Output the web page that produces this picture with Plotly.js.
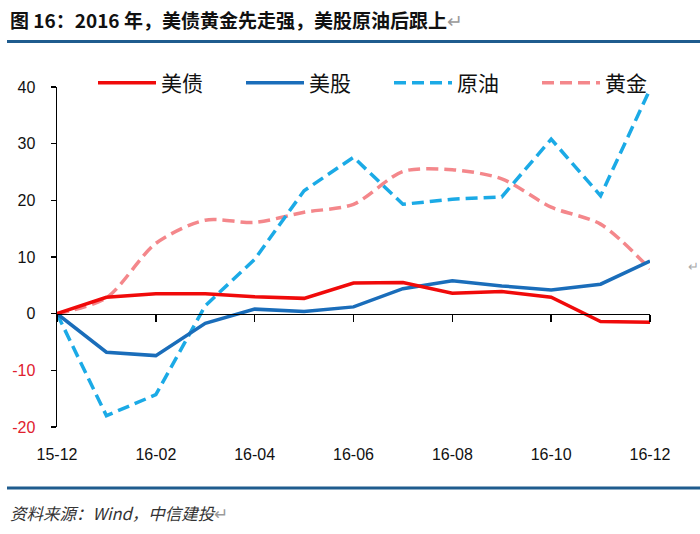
<!DOCTYPE html>
<html>
<head>
<meta charset="utf-8">
<script src="https://cdn.plot.ly/plotly-3.0.1.min.js"></script>
<style>html,body{margin:0;padding:0;background:#fff;}#chart{width:700px;height:534px;}</style>
</head>
<body>
<div id="chart"></div>
<script>
const months = ["15-12","16-01","16-02","16-03","16-04","16-05","16-06","16-07","16-08","16-09","16-10","16-11","16-12"];
const usBond  = [0, 2.9, 3.5, 3.5, 3.0, 2.7, 5.4, 5.5, 3.6, 3.9, 2.9, -1.4, -1.5];
const usStock = [0, -6.8, -7.4, -1.7, 0.8, 0.4, 1.2, 4.4, 5.8, 4.9, 4.2, 5.2, 9.3];
const crude   = [0, -18.0, -14.3, 1.4, 9.6, 21.7, 27.6, 19.3, 20.2, 20.6, 30.8, 20.8, 39.6];
const gold    = [0, 2.8, 12.4, 16.5, 16.1, 17.9, 19.3, 25.1, 25.4, 23.8, 18.8, 15.8, 7.9];
const seriesNames = ["美债","美股","原油","黄金"];
const yTickVals = [-20,-10,0,10,20,30,40];
const yTickText = ['<span style="color:#E0202E">-20</span>','<span style="color:#E0202E">-10</span>','0','10','20','30','40'];
const xTickVals = ["15-12","16-02","16-04","16-06","16-08","16-10","16-12"];

// plot-area geometry in px (for converting annotation positions)
const L = 57, R = 650, T = 87, B = 427;
const px = v => (v - L) / (R - L);
const py = v => (B - v) / (B - T);

const cjk = '"Noto Sans CJK SC", "Noto Sans", sans-serif';
const traces = [
  {x: months, y: gold, name: seriesNames[3], type:'scatter', mode:'lines', legendrank: 4,
   line:{color:'#F4878B', width:3.5, dash:'12px,6px', shape:'spline', smoothing:0.8}},
  {x: months, y: crude, name: seriesNames[2], type:'scatter', mode:'lines', legendrank: 3,
   line:{color:'#1BAAE6', width:3.5, dash:'12px,6px'}},
  {x: months, y: usStock, name: seriesNames[1], type:'scatter', mode:'lines', legendrank: 2,
   line:{color:'#1A6DBA', width:3.5}},
  {x: months, y: usBond, name: seriesNames[0], type:'scatter', mode:'lines', legendrank: 1,
   line:{color:'#F00A0A', width:3.5}},
  {x: months, y: usBond, xaxis:'x2', type:'scatter', mode:'lines', showlegend:false,
   hoverinfo:'skip', opacity:0, line:{width:0}}
];

const layout = {
  width:700, height:534,
  paper_bgcolor:'#fff', plot_bgcolor:'#fff',
  margin:{l:L, r:700-R, t:T, b:534-B, pad:0},
  font:{family:'"Liberation Sans", Arial, sans-serif', size:16, color:'#111'},
  showlegend:true,
  legend:{orientation:'h', x:px(685), xanchor:'right', y:py(83), yanchor:'middle',
    font:{family:cjk, size:21, color:'#111'}, itemwidth:58, entrywidth:75, traceorder:'normal',
    bgcolor:'rgba(0,0,0,0)'},
  xaxis:{type:'category', range:[0,12], tickmode:'array', tickvals:xTickVals,
    showline:false, showgrid:false, zeroline:false, ticks:'', ticklabelstandoff:16,
    tickfont:{size:16, color:'#111'}, fixedrange:true},
  xaxis2:{type:'category', overlaying:'x', anchor:'free', position:1/3, range:[0,12],
    tickmode:'array', tickvals:xTickVals, showticklabels:false, showline:true, linecolor:'#000',
    linewidth:1.5, ticks:'outside', ticklen:7, tickwidth:1.5, tickcolor:'#000', showgrid:false, zeroline:false},
  yaxis:{range:[-20,40], tickmode:'array', tickvals:yTickVals, ticktext:yTickText,
    showline:true, linecolor:'#000', linewidth:1.5, ticks:'outside', ticklen:5, tickwidth:1.5,
    tickcolor:'#000', showgrid:false, zeroline:false, ticklabelstandoff:12,
    tickfont:{size:16, color:'#111'}},
  shapes:[
    {type:'line', xref:'paper', yref:'paper', x0:px(7), x1:px(700), y0:py(41.5), y1:py(41.5),
     line:{color:'#1F5C8E', width:3}},
    {type:'line', xref:'paper', yref:'paper', x0:px(7), x1:px(700), y0:py(488), y1:py(488),
     line:{color:'#1F5C8E', width:3}}
  ],
  annotations:[
    {xref:'paper', yref:'paper', x:px(8), y:py(19), xanchor:'left', yanchor:'middle', showarrow:false,
     text:'<b>图 16：2016 年，美债黄金先走强，美股原油后跟上</b><span style="color:#9a9a9a">↵</span>',
     font:{family:cjk, size:19, color:'#111'}},
    {xref:'paper', yref:'paper', x:px(8), y:py(513), xanchor:'left', yanchor:'middle', showarrow:false,
     text:'<i>资料来源：Wind，中信建投</i><span style="color:#9a9a9a">↵</span>',
     font:{family:cjk, size:16.5, color:'#333'}},
    {xref:'paper', yref:'paper', x:px(686), y:py(265), xanchor:'left', yanchor:'middle', showarrow:false,
     text:'<span style="color:#aaa">↵</span>', font:{family:cjk, size:13}}
  ]
};

Plotly.newPlot('chart', traces, layout, {displayModeBar:false, staticPlot:true});
</script>
</body>
</html>
